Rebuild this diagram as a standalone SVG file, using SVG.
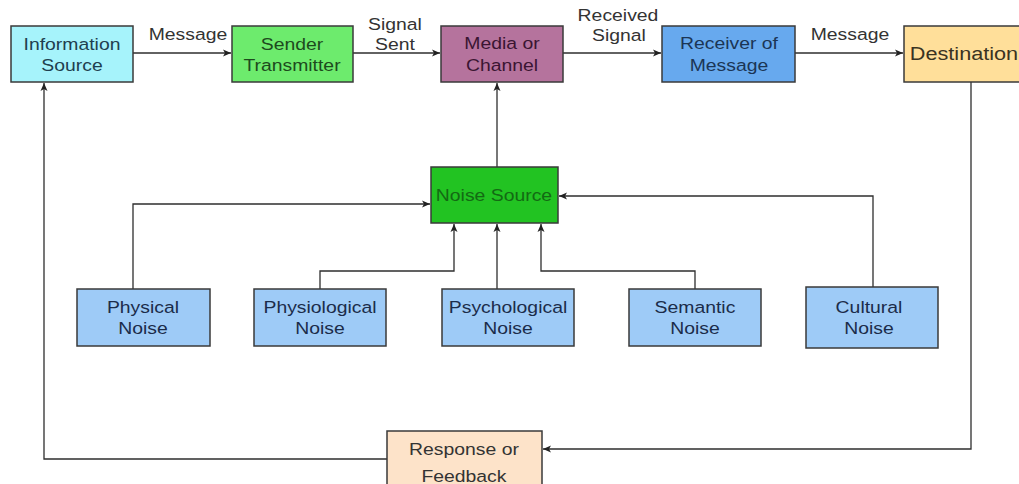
<svg xmlns="http://www.w3.org/2000/svg" width="1019" height="484" viewBox="0 0 1019 484">
  <style>
    .box { stroke: #3a3a3a; stroke-width: 1.5; }
    .t { font-family: "Liberation Sans", Arial, sans-serif; font-size: 17px; text-anchor: middle;
         transform-box: fill-box; transform-origin: center; transform: scaleX(1.14); }
    .lbl { fill: #333333; }
    .edge { fill: none; stroke: #2e2e2e; stroke-width: 1.3; marker-end: url(#arrow); }
  </style>
  <defs>
    <marker id="arrow" markerWidth="9" markerHeight="8" refX="8" refY="4" orient="auto" markerUnits="userSpaceOnUse">
      <path d="M0,0.5 L8,4 L0,7.5 L2,4 Z" fill="#222222"/>
    </marker>
  </defs>
  <rect width="1019" height="484" fill="#ffffff"/>

  <!-- connectors -->
  <g id="connectors">
    <path class="edge" d="M133,53 H231"/>
    <path class="edge" d="M353,53 H440"/>
    <path class="edge" d="M563,53 H661"/>
    <path class="edge" d="M795,53 H903"/>
    <path class="edge" d="M497,167 V83"/>
    <path class="edge" d="M133,289 V204 H430"/>
    <path class="edge" d="M320,289 V271 H454 V224"/>
    <path class="edge" d="M497,289 V224"/>
    <path class="edge" d="M695,289 V271 H541 V224"/>
    <path class="edge" d="M873,287 V196 H559"/>
    <path class="edge" d="M971,82 V449 H543"/>
    <path class="edge" d="M387,459 H44 V83"/>
    <text class="t lbl" x="188" y="40">Message</text>
    <text class="t lbl" x="395" y="30">Signal</text>
    <text class="t lbl" x="395" y="50">Sent</text>
    <text class="t lbl" x="618" y="21">Received</text>
    <text class="t lbl" x="619" y="41">Signal</text>
    <text class="t lbl" x="850" y="40">Message</text>
  </g>

  <g id="information-source">
    <rect class="box" x="11" y="26" width="122" height="56" fill="#a6f3fb"/>
    <text class="t" x="72" y="50" fill="#1f3f4f">Information</text>
    <text class="t" x="72" y="71" fill="#1f3f4f">Source</text>
  </g>
  <g id="sender-transmitter">
    <rect class="box" x="232" y="26" width="121" height="56" fill="#6deb6d"/>
    <text class="t" x="292" y="50" fill="#1d4a1d">Sender</text>
    <text class="t" x="292" y="71" fill="#1d4a1d">Transmitter</text>
  </g>
  <g id="media-channel">
    <rect class="box" x="441" y="26" width="122" height="56" fill="#b5739d"/>
    <text class="t" x="502" y="49" fill="#3a1532">Media or</text>
    <text class="t" x="502" y="71" fill="#3a1532">Channel</text>
  </g>
  <g id="receiver">
    <rect class="box" x="662" y="26" width="133" height="56" fill="#67a9ee"/>
    <text class="t" x="729" y="49" fill="#1b3555">Receiver of</text>
    <text class="t" x="729" y="71" fill="#1b3555">Message</text>
  </g>
  <g id="destination">
    <rect class="box" x="904" y="26" width="120" height="56" fill="#ffdf9a"/>
    <text class="t" x="964" y="60" fill="#3a3322" style="font-size:19px">Destination</text>
  </g>

  <g id="noise-source">
    <rect class="box" x="431" y="167" width="127" height="56" fill="#22c322"/>
    <text class="t" x="494" y="201" fill="#136a13">Noise Source</text>
  </g>

  <g id="physical-noise">
    <rect class="box" x="77" y="289" width="133" height="57" fill="#9ecbf7"/>
    <text class="t" x="143" y="313" fill="#1b2c4a">Physical</text>
    <text class="t" x="143" y="334" fill="#1b2c4a">Noise</text>
  </g>
  <g id="physiological-noise">
    <rect class="box" x="254" y="289" width="132" height="57" fill="#9ecbf7"/>
    <text class="t" x="320" y="313" fill="#1b2c4a">Physiological</text>
    <text class="t" x="320" y="334" fill="#1b2c4a">Noise</text>
  </g>
  <g id="psychological-noise">
    <rect class="box" x="442" y="289" width="132" height="57" fill="#9ecbf7"/>
    <text class="t" x="508" y="313" fill="#1b2c4a">Psychological</text>
    <text class="t" x="508" y="334" fill="#1b2c4a">Noise</text>
  </g>
  <g id="semantic-noise">
    <rect class="box" x="629" y="289" width="132" height="57" fill="#9ecbf7"/>
    <text class="t" x="695" y="313" fill="#1b2c4a">Semantic</text>
    <text class="t" x="695" y="334" fill="#1b2c4a">Noise</text>
  </g>
  <g id="cultural-noise">
    <rect class="box" x="806" y="287" width="132" height="61" fill="#9ecbf7"/>
    <text class="t" x="869" y="313" fill="#1b2c4a">Cultural</text>
    <text class="t" x="869" y="334" fill="#1b2c4a">Noise</text>
  </g>

  <g id="response-feedback">
    <rect class="box" x="387" y="431" width="155" height="60" fill="#fde3c9"/>
    <text class="t" x="464" y="455" fill="#333333">Response or</text>
    <text class="t" x="464" y="482" fill="#333333">Feedback</text>
  </g>
</svg>
